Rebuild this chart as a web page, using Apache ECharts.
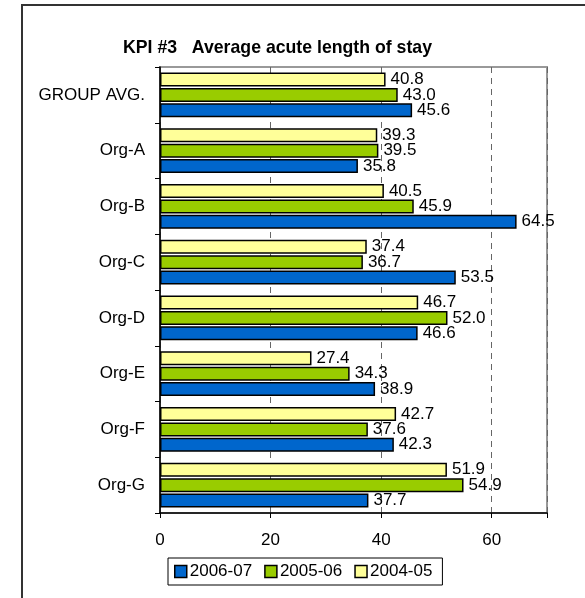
<!DOCTYPE html>
<html>
<head>
<meta charset="utf-8">
<script src="https://cdn.jsdelivr.net/npm/echarts@6/dist/echarts.min.js"></script>
<style>
  html, body { margin: 0; padding: 0; background: #fff; }
  #chart { width: 585px; height: 598px; }
</style>
</head>
<body>
<div id="chart"></div>
<script>
// categories, top to bottom
var categories = ["GROUP AVG.", "Org-A", "Org-B", "Org-C", "Org-D", "Org-E", "Org-F", "Org-G"];
var y0405 = [40.8, 39.3, 40.5, 37.4, 46.7, 27.4, 42.7, 51.9];
var y0506 = [43.0, 39.5, 45.9, 36.7, 52.0, 34.3, 37.6, 54.9];
var y0607 = [45.6, 35.8, 64.5, 53.5, 46.6, 38.9, 42.3, 37.7];
var xTicks = [0, 20, 40, 60];

var font = "Liberation Sans, Arial, sans-serif";

function makeSeries(name, data, color) {
  return {
    name: name,
    type: "bar",
    data: data,
    barWidth: 14,
    barGap: "10%",
    itemStyle: { color: color, borderColor: "#000", borderWidth: 1.5 },
    label: {
      show: true,
      position: "right",
      distance: 5,
      color: "#000",
      fontFamily: font,
      fontSize: 17,
      formatter: function (p) { return p.value.toFixed(1); }
    }
  };
}

var myChart = echarts.init(document.getElementById("chart"));
var options = {
  animation: false,
  title: {
    text: "KPI #3   Average acute length of stay",
    left: 118,
    top: 34,
    textStyle: { fontFamily: font, fontSize: 17.7, fontWeight: "bold", color: "#000" }
  },
  graphic: [
    {
      type: "rect",
      shape: { x: 22, y: 5, width: 700, height: 700 },
      style: { fill: "none", stroke: "#333", lineWidth: 2 },
      silent: true
    }
  ],
  legend: {
    data: ["2006-07", "2005-06", "2004-05"],
    left: 168,
    top: 558,
    padding: [5, 10, 5, 6],
    borderColor: "#000",
    borderWidth: 1,
    itemWidth: 12,
    itemHeight: 12,
    itemGap: 12,
    icon: "rect",
    itemStyle: { borderColor: "#000", borderWidth: 1.5 },
    textStyle: { fontFamily: font, fontSize: 17, color: "#000", padding: [0, 0, 0, -2] }
  },
  grid: {
    left: 160,
    top: 67,
    right: 38,
    bottom: 85,
    show: true,
    borderColor: "#999",
    borderWidth: 2,
    containLabel: false
  },
  xAxis: {
    type: "value",
    min: 0,
    max: 70,
    interval: 20,
    axisLine: { show: true, lineStyle: { color: "#000", width: 1.5 } },
    axisTick: { show: true, length: 5, lineStyle: { color: "#000" } },
    axisLabel: {
      margin: 19,
      fontFamily: font,
      fontSize: 17,
      color: "#000",
      formatter: function (v) { return xTicks.indexOf(v) >= 0 ? String(v) : ""; }
    },
    splitLine: { show: true, lineStyle: { color: "#666", type: [6, 5], width: 1 } }
  },
  yAxis: {
    type: "category",
    data: categories,
    inverse: true,
    axisLine: { show: true, lineStyle: { color: "#000", width: 1.5 } },
    axisTick: { show: true, length: 5, lineStyle: { color: "#000" } },
    axisLabel: { margin: 15, fontFamily: font, fontSize: 17, color: "#000" }
  },
  series: [
    makeSeries("2004-05", y0405, "#ffff99"),
    makeSeries("2005-06", y0506, "#99cc00"),
    makeSeries("2006-07", y0607, "#0066cc")
  ]
};
myChart.setOption(options);
</script>
</body>
</html>
